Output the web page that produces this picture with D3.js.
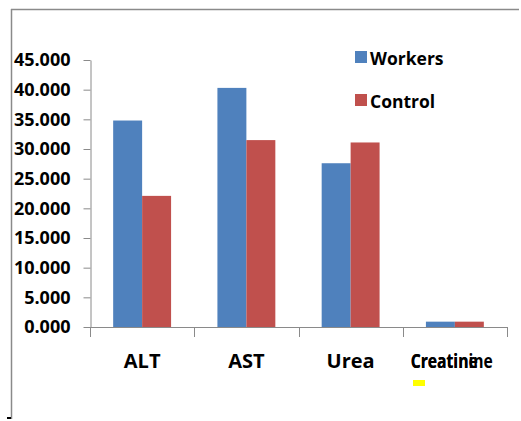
<!DOCTYPE html>
<html>
<head>
<meta charset="utf-8">
<script src="https://cdn.jsdelivr.net/npm/d3@7"></script>
<style>
  body { margin: 0; background: #fff; }
  text { font-family: "Open Sans", sans-serif; font-weight: bold; fill: #000; }
</style>
</head>
<body>
<script>
// chart data
var categories = ["ALT", "AST", "Urea", "Creatine"];
var seriesNames = ["Workers", "Control"];
var workers = [34.8, 40.3, 27.6, 0.9];
var control = [22.1, 31.5, 31.1, 0.9];
var yTicks = [0, 5, 10, 15, 20, 25, 30, 35, 40, 45];
var colors = ["#4F81BD", "#C0504D"];

var svgWidth = 521;
var svgHeight = 421;

var svg = d3.select("body")
    .append("svg")
    .attr("width", svgWidth)
    .attr("height", svgHeight);

// frame (top and left only, like the cropped original)
svg.append("line")
    .attr("x1", 11).attr("x2", 519).attr("y1", 9.5).attr("y2", 9.5)
    .attr("stroke", "#8a8a8a").attr("stroke-width", 1.5);
svg.append("line")
    .attr("x1", 11.5).attr("x2", 11.5).attr("y1", 9).attr("y2", 419)
    .attr("stroke", "#8a8a8a").attr("stroke-width", 1.5);
svg.append("rect")
    .attr("x", 7).attr("y", 417).attr("width", 4).attr("height", 2)
    .attr("fill", "#000");

var yScale = d3.scaleLinear()
    .domain([0, 45])
    .range([327, 60]);

var xScale = d3.scaleBand()
    .domain(categories)
    .range([90, 507])
    .padding(0);

var inner = d3.scaleBand()
    .domain(seriesNames)
    .range([0, xScale.bandwidth()])
    .paddingInner(0)
    .paddingOuter(0.8);

// y axis
var yAxis = d3.axisLeft(yScale)
    .tickValues(yTicks)
    .tickFormat(d3.format(".3f"))
    .tickSize(7)
    .tickSizeOuter(0)
    .tickPadding(13);

var yG = svg.append("g")
    .attr("transform", "translate(90.5,0)")
    .call(yAxis);
yG.select(".domain").attr("stroke", "#8a8a8a");
yG.selectAll(".tick line").attr("stroke", "#8a8a8a");
yG.selectAll(".tick text")
    .style("font-size", "18px")
    .attr("fill", "#000");

// bars
var data = categories.map(function (c, i) {
    return { cat: c, values: [workers[i], control[i]] };
});

var groups = svg.selectAll(".cat")
    .data(data)
    .enter()
    .append("g")
    .attr("class", "cat")
    .attr("transform", d => `translate(${xScale(d.cat)},0)`);

groups.selectAll("rect")
    .data(d => d.values.map((v, j) => ({ name: seriesNames[j], v: v, j: j })))
    .enter()
    .append("rect")
    .attr("x", d => inner(d.name))
    .attr("width", inner.bandwidth())
    .attr("y", d => yScale(d.v))
    .attr("height", d => yScale(0) - yScale(d.v))
    .attr("fill", d => colors[d.j]);

// x axis line and boundary ticks
var xG = svg.append("g");
xG.append("line")
    .attr("x1", 90).attr("x2", 507)
    .attr("y1", yScale(0) + 0.5).attr("y2", yScale(0) + 0.5)
    .attr("stroke", "#8a8a8a");
var bounds = categories.map(c => xScale(c)).concat([xScale.range()[1]]);
xG.selectAll(".xt")
    .data(bounds)
    .enter()
    .append("line")
    .attr("class", "xt")
    .attr("x1", d => Math.round(d) + 0.5).attr("x2", d => Math.round(d) + 0.5)
    .attr("y1", yScale(0)).attr("y2", yScale(0) + 10)
    .attr("stroke", "#8a8a8a");

// category labels
xG.selectAll(".xl")
    .data(categories.slice(0, 3))
    .enter()
    .append("text")
    .attr("class", "xl")
    .attr("x", d => xScale(d) + xScale.bandwidth() / 2)
    .attr("y", 368)
    .attr("text-anchor", "middle")
    .style("font-size", "20px")
    .text(d => d);

// the last label is printed twice over itself in the original
// ("Creatine" on top of "Creatinine"), squeezed into the same width
var lastG = xG.append("g")
    .attr("transform", `translate(${xScale("Creatine") + 8},368)`);
var longT = lastG.append("text").style("font-size", "20px").text("Creatinine");
var shortT = lastG.append("text").style("font-size", "20px").text("Creatine");
var k = 82 / longT.node().getComputedTextLength();
longT.attr("textLength", 82).attr("lengthAdjust", "spacingAndGlyphs");
shortT.attr("textLength", shortT.node().getComputedTextLength() * k)
    .attr("lengthAdjust", "spacingAndGlyphs");
svg.append("rect")
    .attr("x", 413).attr("y", 380).attr("width", 12).attr("height", 6)
    .attr("fill", "#ffff00");

// legend
var legend = svg.selectAll(".legend")
    .data(seriesNames)
    .enter()
    .append("g")
    .attr("class", "legend")
    .attr("transform", (d, i) => `translate(355,${51 + i * 43})`);
legend.append("rect")
    .attr("width", 12).attr("height", 12)
    .attr("fill", (d, i) => colors[i]);
legend.append("text")
    .attr("x", 15)
    .attr("y", 14)
    .style("font-size", "17.5px")
    .text(d => d);
</script>
</body>
</html>
